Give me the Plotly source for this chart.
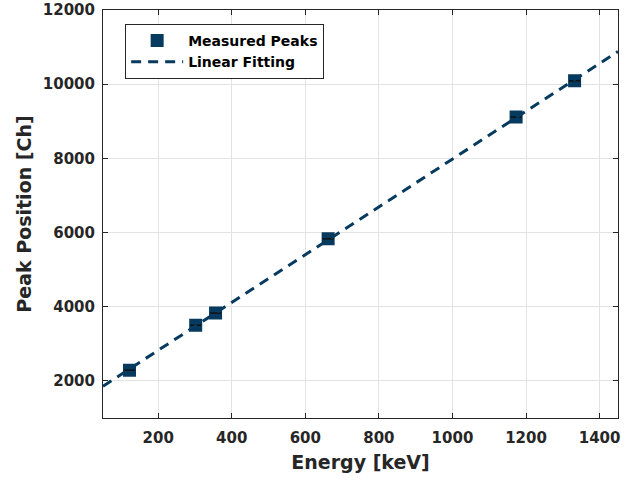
import numpy as np
import plotly.graph_objects as go

# Gamma-ray calibration peaks
energy_kev = [122, 302, 356, 662, 1173, 1332]
peak_channel = [2290, 3500, 3830, 5830, 9115, 10090]

x_ticks = [200, 400, 600, 800, 1000, 1200, 1400]
y_ticks = [2000, 4000, 6000, 8000, 10000, 12000]

x_range = [50, 1450]
y_range = [1000, 12000]

navy = "#063a5e"
axis_color = "#262626"
font_family = "DejaVu Sans"

# Least-squares linear calibration
slope, intercept = np.polyfit(energy_kev, peak_channel, 1)
fit_x = np.array(x_range, dtype=float)
fit_y = slope * fit_x + intercept

fig = go.Figure()

fig.add_trace(go.Scatter(
    x=energy_kev, y=peak_channel, mode="markers", name="Measured Peaks",
    marker=dict(symbol="square", size=11, color=navy,
                line=dict(color=navy, width=2)),
))
# error-bar caps drawn over the markers
fig.add_trace(go.Scatter(
    x=energy_kev, y=peak_channel, mode="markers", showlegend=False,
    hoverinfo="skip",
    marker=dict(symbol="line-ew", size=8, color="black",
                line=dict(color="#111111", width=1.5)),
))
fig.add_trace(go.Scatter(
    x=fit_x, y=fit_y, mode="lines", name="Linear Fitting",
    line=dict(color=navy, width=3, dash="10px,7px"),
))

axis_common = dict(
    showline=True, linecolor=axis_color, linewidth=1, mirror="ticks",
    ticks="inside", ticklen=5, tickcolor=axis_color, tickwidth=1,
    showgrid=True, gridcolor="#e3e3e3", gridwidth=1, zeroline=False,
    automargin=False,
    tickfont=dict(family=font_family, size=15, color=axis_color,
                  weight="bold"),
)

fig.update_xaxes(
    range=x_range, tickvals=x_ticks, ticktext=[str(v) for v in x_ticks],
    ticklabelstandoff=6,
    title=dict(text="Energy [keV]", standoff=9,
               font=dict(family=font_family, size=19, color=axis_color,
                         weight="bold")),
    **axis_common,
)
fig.update_yaxes(
    range=y_range, tickvals=y_ticks, ticktext=[str(v) for v in y_ticks],
    ticklabelstandoff=4,
    title=dict(text="Peak Position [Ch]", standoff=6,
               font=dict(family=font_family, size=19, color=axis_color,
                         weight="bold")),
    **axis_common,
)

fig.update_layout(
    width=637, height=481,
    margin=dict(l=103, r=19, t=10, b=63),
    paper_bgcolor="white", plot_bgcolor="white",
    showlegend=True,
    legend=dict(
        x=0.043, y=0.966, xanchor="left", yanchor="top",
        bgcolor="white", bordercolor=axis_color, borderwidth=1,
        font=dict(family=font_family, size=14, color="black",
                  weight="bold"),
        itemwidth=52, tracegroupgap=0,
    ),
)

fig.write_html("out.html")
